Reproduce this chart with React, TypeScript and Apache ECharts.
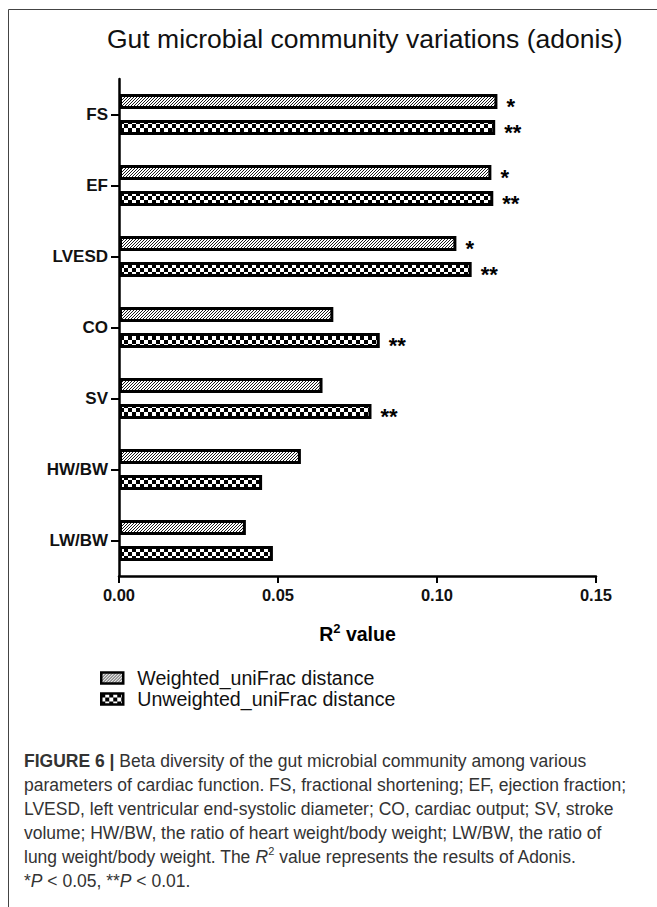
import React, { useEffect, useRef } from "react";
import * as echarts from "echarts";

// Adonis R² values per cardiac parameter
const categories = ["FS", "EF", "LVESD", "CO", "SV", "HW/BW", "LW/BW"];
const weightedR2 = [0.119, 0.1171, 0.1061, 0.0674, 0.064, 0.0572, 0.0399];
const unweightedR2 = [0.1183, 0.1177, 0.1109, 0.082, 0.0794, 0.045, 0.0484];
const weightedSig = ["*", "*", "*", "", "", "", ""];
const unweightedSig = ["**", "**", "**", "**", "**", "", ""];
const seriesNames = ["Weighted_uniFrac distance", "Unweighted_uniFrac distance"];

const FONT = "'Liberation Sans', Arial, Helvetica, sans-serif";

function hatchTile(): HTMLCanvasElement {
  const c = document.createElement("canvas");
  c.width = 3;
  c.height = 3;
  const ctx = c.getContext("2d")!;
  ctx.fillStyle = "#ffffff";
  ctx.fillRect(0, 0, 3, 3);
  ctx.fillStyle = "#1a1a1a";
  ctx.fillRect(0, 2, 1, 1);
  ctx.fillRect(1, 1, 1, 1);
  ctx.fillRect(2, 0, 1, 1);
  return c;
}

function checkerTile(cell: number): HTMLCanvasElement {
  const c = document.createElement("canvas");
  c.width = cell * 2;
  c.height = cell * 2;
  const ctx = c.getContext("2d")!;
  ctx.fillStyle = "#ffffff";
  ctx.fillRect(0, 0, cell * 2, cell * 2);
  ctx.fillStyle = "#000000";
  ctx.fillRect(0, 0, cell, cell);
  ctx.fillRect(cell, cell, cell, cell);
  return c;
}

const captionLines = [
  "{b|FIGURE 6 |} Beta diversity of the gut microbial community among various",
  "parameters of cardiac function. FS, fractional shortening; EF, ejection fraction;",
  "LVESD, left ventricular end-systolic diameter; CO, cardiac output; SV, stroke",
  "volume; HW/BW, the ratio of heart weight/body weight; LW/BW, the ratio of",
  "lung weight/body weight. The {i|R}{sup|2} value represents the results of Adonis.",
  "*{i|P} < 0.05, **{i|P} < 0.01.",
];

export default function App() {
  const ref = useRef<HTMLDivElement>(null);

  useEffect(() => {
    if (!ref.current) return;
    const chart = echarts.init(ref.current, undefined, { renderer: "svg" });

    const hatch = { image: hatchTile(), repeat: "repeat" as const };
    const checker = { image: checkerTile(4), repeat: "repeat" as const };

    const barLabel = (sig: string[]) => ({
      show: true,
      position: "right" as const,
      distance: 9,
      offset: [0, 5],
      fontSize: 22,
      fontWeight: "bold" as const,
      fontFamily: FONT,
      color: "#000",
      formatter: (p: any) => sig[p.dataIndex],
    });

    const captionColor = "#333333";
    const captionStyle = { fontSize: 17.5, fontFamily: FONT, color: captionColor, lineHeight: 24 };

    chart.setOption({
      animation: false,
      backgroundColor: "#ffffff",
      title: {
        text: "Gut microbial community variations (adonis)",
        left: 107,
        top: 25,
        padding: 0,
        textStyle: { fontSize: 26.5, fontWeight: "normal", color: "#111", fontFamily: FONT },
      },
      grid: { left: 119, right: 61, top: 79, bottom: 331, containLabel: false },
      legend: {
        orient: "vertical",
        left: 100,
        top: 668,
        padding: 0,
        itemWidth: 22,
        itemHeight: 11,
        itemGap: 1,
        icon: "rect",
        itemStyle: { borderColor: "#000", borderWidth: 2.5 },
        textStyle: { fontSize: 19.6, color: "#111", fontFamily: FONT, padding: [0, 0, 0, 9] },
        data: seriesNames,
      },
      xAxis: {
        type: "value",
        min: 0,
        max: 0.15,
        interval: 0.05,
        name: "{a|R}{s|2}{a| value}",
        nameLocation: "middle",
        nameGap: 46,
        nameTextStyle: {
          rich: {
            a: { fontSize: 19.5, fontWeight: "bold", color: "#000", fontFamily: FONT, lineHeight: 24 },
            s: { fontSize: 13, fontWeight: "bold", color: "#000", fontFamily: FONT, verticalAlign: "top", lineHeight: 15 },
          },
        },
        axisLine: { show: true, lineStyle: { color: "#000", width: 2.5 } },
        axisTick: { show: true, length: 7, lineStyle: { color: "#000", width: 2 } },
        splitLine: { show: false },
        axisLabel: {
          fontSize: 16.5,
          fontWeight: "bold",
          color: "#111",
          fontFamily: FONT,
          margin: 10,
          formatter: (v: number) => v.toFixed(2),
        },
      },
      yAxis: {
        type: "category",
        data: categories,
        inverse: true,
        axisLine: { show: true, lineStyle: { color: "#000", width: 2.5 } },
        axisTick: { show: true, alignWithLabel: true, length: 8, lineStyle: { color: "#000", width: 2 } },
        axisLabel: { fontSize: 17, fontWeight: "bold", color: "#111", fontFamily: FONT, margin: 11 },
        splitLine: { show: false },
      },
      series: [
        {
          name: seriesNames[0],
          type: "bar",
          data: weightedR2,
          barWidth: 15,
          barGap: "73%",
          itemStyle: { color: hatch, borderColor: "#000", borderWidth: 3 },
          label: barLabel(weightedSig),
        },
        {
          name: seriesNames[1],
          type: "bar",
          data: unweightedR2,
          barWidth: 15,
          barGap: "73%",
          itemStyle: { color: checker, borderColor: "#000", borderWidth: 3 },
          label: barLabel(unweightedSig),
        },
      ],
      graphic: [
        { type: "line", shape: { x1: 8.5, y1: 9.5, x2: 657, y2: 9.5 }, style: { stroke: "#444", lineWidth: 1 } },
        { type: "line", shape: { x1: 8.5, y1: 9.5, x2: 8.5, y2: 907 }, style: { stroke: "#444", lineWidth: 1 } },
        {
          type: "text",
          x: 24,
          y: 749,
          style: {
            text: captionLines.join("\n"),
            fontSize: 17.5,
            fontFamily: FONT,
            fill: captionColor,
            lineHeight: 24,
            rich: {
              b: { ...captionStyle, fontWeight: "bold", color: "#111" },
              i: { ...captionStyle, fontStyle: "italic" },
              sup: { fontSize: 11, fontFamily: FONT, color: captionColor, verticalAlign: "top", lineHeight: 14 },
            },
          },
        },
      ],
    });

    return () => chart.dispose();
  }, []);

  return (
    <div
      ref={ref}
      style={{ position: "absolute", left: 0, top: 0, width: 657, height: 907, background: "#fff" }}
    />
  );
}
